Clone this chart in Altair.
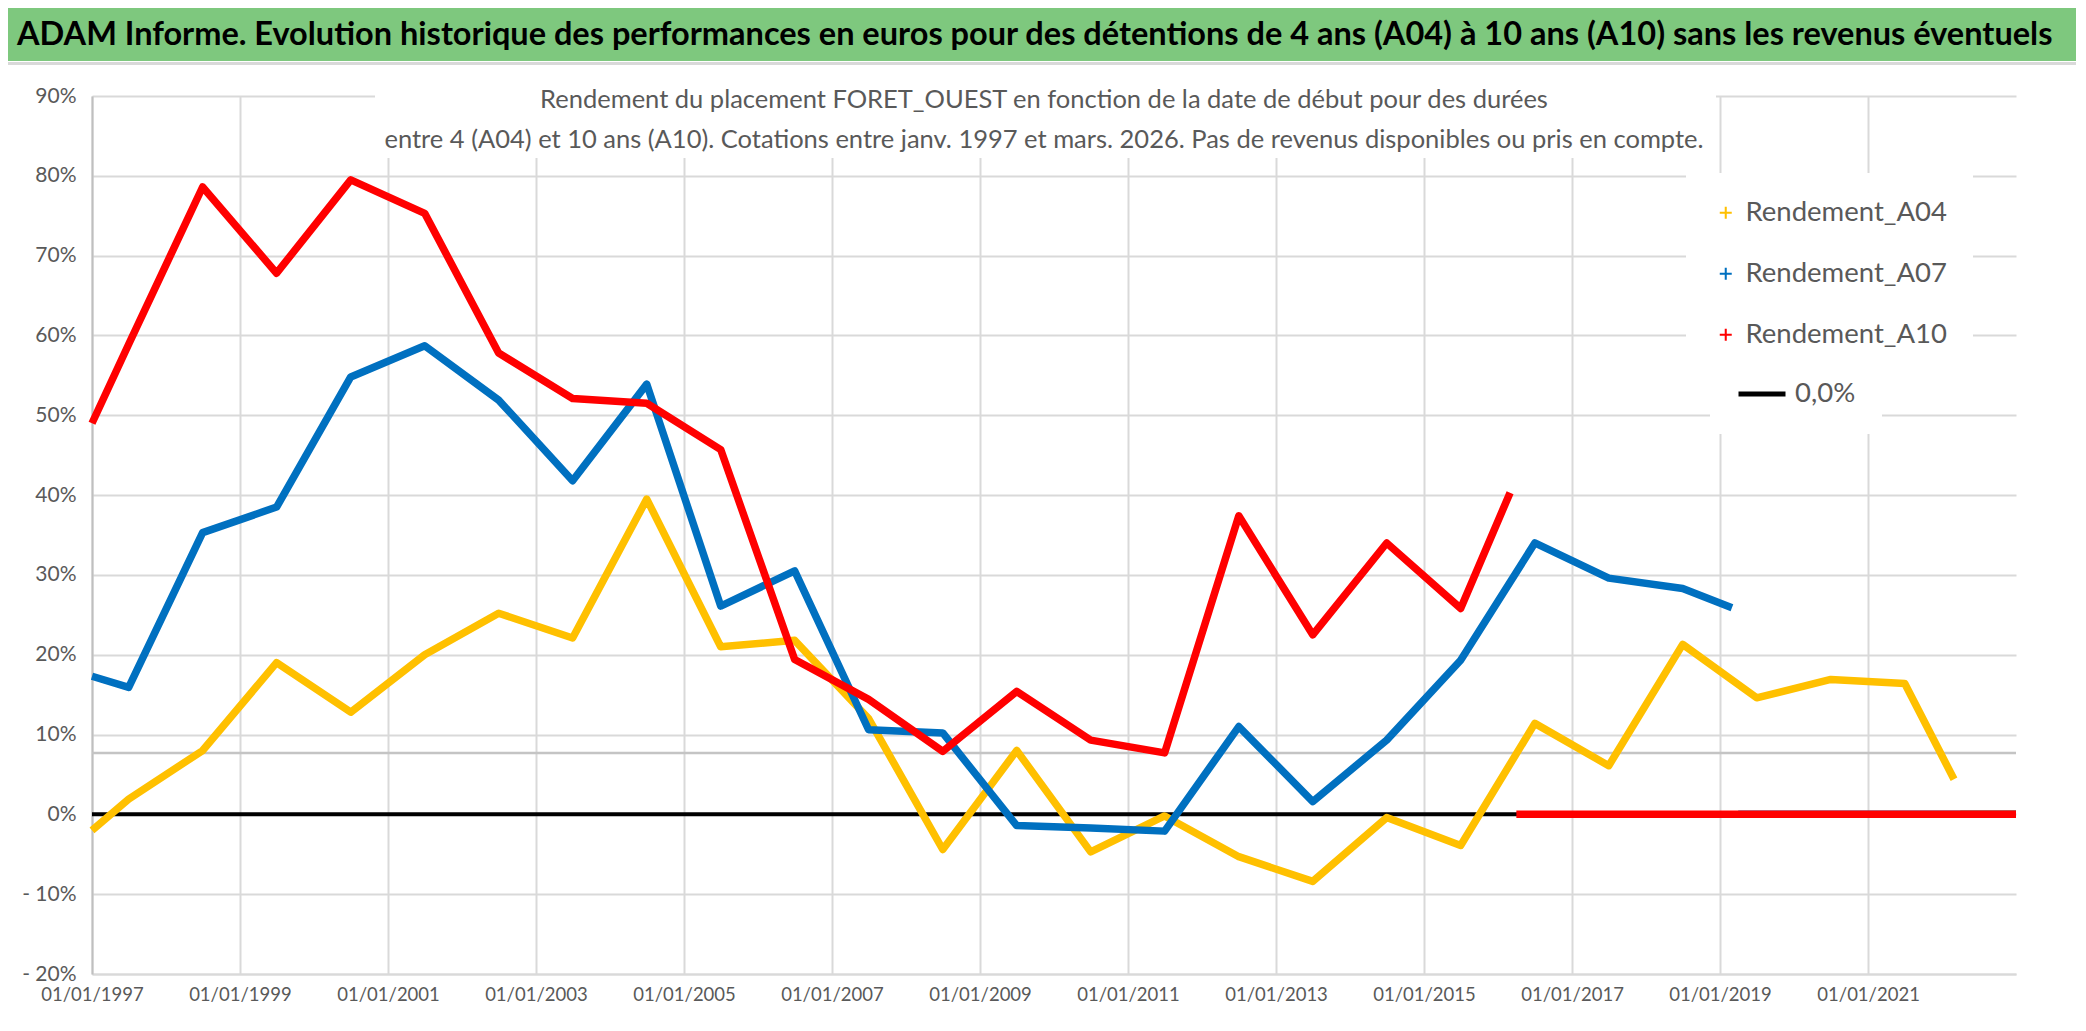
import altair as alt
import pandas as pd

FONT = "Lato"

title_text = ("ADAM Informe. Evolution historique des performances en euros pour des "
              "détentions de 4 ans (A04) à 10 ans (A10) sans les revenus éventuels")
subtitle_1 = "Rendement du placement FORET_OUEST en fonction de la date de début pour des durées"
subtitle_2 = ("entre 4 (A04) et 10 ans (A10). Cotations entre janv. 1997 et mars. 2026. "
              "Pas de revenus disponibles ou pris en compte.")

series_names = ["Rendement_A04", "Rendement_A07", "Rendement_A10"]
series_colors = ["#FFC000", "#0070C0", "#FF0000"]
zero_name = ["0,0%"]

# start dates of the holding periods (vertices of the curves)
start_dates = ["1997-01-01", "1997-07-01", "1998-07-01", "1999-07-01", "2000-07-01",
               "2001-07-01", "2002-07-01", "2003-07-01", "2004-07-01", "2005-07-01",
               "2006-07-01", "2007-07-01", "2008-07-01", "2009-07-01", "2010-07-01",
               "2011-07-01", "2012-07-01", "2013-07-01", "2014-07-01", "2015-07-01",
               "2016-07-01", "2017-07-01", "2018-07-01", "2019-07-01", "2020-07-01",
               "2021-07-01"]

# yields in %
a04_values = [-2.0, 1.9, 8.0, 19.0, 12.8, 20.0, 25.2, 22.1, 39.5, 21.0, 21.8, 12.0, -4.4,
              8.0, -4.7, -0.2, -5.3, -8.4, -0.4, -3.9, 11.4, 6.1, 21.3, 14.6, 16.9, 16.4]
a04_last = ("2022-03-01", 4.4)
a04_zero_from = "2022-04-01"

a07_values = [17.3, 15.9, 35.3, 38.5, 54.8, 58.7, 51.9, 41.8, 53.9, 26.1, 30.5, 10.6, 10.2,
              -1.4, -1.7, -2.1, 11.0, 1.6, 9.3, 19.3, 34.0, 29.6, 28.3]
a07_last = ("2019-03-01", 25.9)
a07_zero_from = "2019-04-01"

a10_values = [49.0, 58.9, 78.6, 67.8, 79.5, 75.3, 57.8, 52.1, 51.5, 45.7, 19.4, 14.4, 7.9,
              15.4, 9.3, 7.7, 37.4, 22.5, 34.0, 25.8]
a10_last = ("2016-03-01", 40.3)
a10_zero_from = "2016-04-01"

zero_level = [0.0]
grey_level = [7.7]

axis_end = "2023-01-01"
tick_years = [1997, 1999, 2001, 2003, 2005, 2007, 2009, 2011, 2013, 2015, 2017, 2019, 2021]
y_ticks = [-0.2, -0.1, 0.0, 0.1, 0.2, 0.3, 0.4, 0.5, 0.6, 0.7, 0.8, 0.9]

W, H = 1924, 878
PAD = {"left": 84, "top": 88, "right": 60, "bottom": 40}


def series_df(values, last, zero_from):
    d = start_dates[:len(values)] + [last[0]]
    v = [x / 100 for x in values] + [last[1] / 100]
    df1 = pd.DataFrame({"date": d, "value": v, "seg": "data"})
    df2 = pd.DataFrame({"date": [zero_from, axis_end], "value": [0.0, 0.0], "seg": "zero"})
    return pd.concat([df1, df2], ignore_index=True)


x_enc = alt.X(
    "date:T",
    scale=alt.Scale(domain=[alt.DateTime(year=1997, month=1, date=1),
                            alt.DateTime(year=2023, month=1, date=1)]),
    axis=alt.Axis(
        values=[alt.DateTime(year=y, month=1, date=1) for y in tick_years],
        format="%d/%m/%Y", title=None, labelFont=FONT, labelFontSize=18.5,
        labelColor="#595959", labelPadding=11, grid=True, gridColor="#d9d9d9",
        gridWidth=2, ticks=False, domainColor="#d9d9d9", domainWidth=2,
        labelFlush=False, labelOverlap=False,
    ),
)
y_enc = alt.Y(
    "value:Q",
    scale=alt.Scale(domain=[-0.2, 0.9], nice=False, zero=False),
    axis=alt.Axis(
        values=y_ticks, title=None,
        labelExpr="datum.value < -0.0001 ? '- ' + format(-datum.value, '.0%') : format(datum.value, '.0%')",
        labelFont=FONT, labelFontSize=21, labelColor="#595959", labelPadding=16,
        grid=True, gridColor="#d9d9d9", gridWidth=2, ticks=False,
        domainColor="#bfbfbf", domainWidth=2,
    ),
)

one = pd.DataFrame({"k": [0]})

# decorations: green banner, banner underline, white box behind the subtitle
banner = alt.Chart(one).mark_rect(color="#7ec87e").encode(
    x=alt.value(-PAD["left"]), x2=alt.value(W + PAD["right"]),
    y=alt.value(-PAD["top"]), y2=alt.value(-35))
banner_line = alt.Chart(one).mark_rect(color="#d9d9d9").encode(
    x=alt.value(-PAD["left"]), x2=alt.value(W + PAD["right"]),
    y=alt.value(-34), y2=alt.value(-31))
sub_box = alt.Chart(one).mark_rect(color="white").encode(
    x=alt.value(283), x2=alt.value(1624), y=alt.value(-30), y2=alt.value(62))

title_mark = alt.Chart(pd.DataFrame({"t": [title_text]})).mark_text(
    font=FONT, fontSize=32.5, fontWeight="bold", color="black", align="left",
    baseline="alphabetic"
).encode(text="t:N", x=alt.value(-75), y=alt.value(-51))
sub1_mark = alt.Chart(pd.DataFrame({"t": [subtitle_1]})).mark_text(
    font=FONT, fontSize=25.5, color="#595959", align="center", baseline="middle"
).encode(text="t:N", x=alt.value(952), y=alt.value(4))
sub2_mark = alt.Chart(pd.DataFrame({"t": [subtitle_2]})).mark_text(
    font=FONT, fontSize=25.5, color="#595959", align="center", baseline="middle"
).encode(text="t:N", x=alt.value(952), y=alt.value(44))

grey_rule = alt.Chart(pd.DataFrame({"value": [g / 100 for g in grey_level]})).mark_rule(
    color="#c4c4c4", strokeWidth=2.5).encode(y=y_enc)

leg_zero = alt.Legend(
    orient="none", legendX=1618, legendY=246, title=None, fillColor="white",
    padding=26, labelFont=FONT, labelFontSize=27.5, labelColor="#595959",
    symbolType="stroke", symbolSize=2209, symbolStrokeWidth=5,
    symbolStrokeColor="black", labelOffset=7, symbolOpacity=1,
)
zero_rule = alt.Chart(pd.DataFrame({"value": zero_level, "serie": zero_name})).mark_rule(
    color="black", strokeWidth=4).encode(
    y=y_enc,
    strokeDash=alt.StrokeDash("serie:N", scale=alt.Scale(domain=zero_name, range=[[1, 0]]),
                              legend=leg_zero),
)


def line_layer(df, color):
    return alt.Chart(df).mark_line(
        color=color, strokeWidth=7.5, strokeJoin="round", strokeCap="butt"
    ).encode(x=x_enc, y=y_enc, detail="seg:N")


l04 = line_layer(series_df(a04_values, a04_last, a04_zero_from), series_colors[0])
l07 = line_layer(series_df(a07_values, a07_last, a07_zero_from), series_colors[1])
l10 = line_layer(series_df(a10_values, a10_last, a10_zero_from), series_colors[2])

# legend symbol: small "+" marker
plus_path = "M-1,-0.17H-0.17V-1H0.17V-0.17H1V0.17H0.17V1H-0.17V0.17H-1Z"

leg = alt.Legend(
    orient="none", legendX=1594, legendY=77, title=None, fillColor="white",
    padding=26, labelFont=FONT, labelFontSize=27.5, labelColor="#595959",
    symbolSize=144, rowPadding=32, labelOffset=6, symbolStrokeWidth=0,
    labelLimit=400, symbolOpacity=1,
)
legend_layer = alt.Chart(pd.DataFrame({"serie": series_names})).transform_filter(
    "false"
).mark_point(filled=True, opacity=1, size=144, strokeWidth=0, shape=plus_path).encode(
    color=alt.Color("serie:N", scale=alt.Scale(domain=series_names, range=series_colors), legend=leg),
)

chart = alt.layer(
    banner, banner_line, sub_box, title_mark, sub1_mark, sub2_mark,
    grey_rule, zero_rule, l04, l07, l10, legend_layer,
).properties(
    width=W, height=H,
    autosize=alt.AutoSizeParams(type="none"),
    padding=PAD,
    background="white",
).configure_view(stroke=None)

chart.save("out.html", embed_options={"renderer": "svg", "actions": False})
